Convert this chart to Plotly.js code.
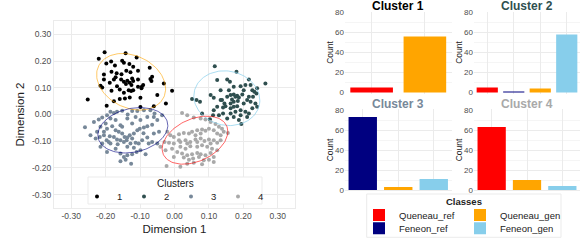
<!DOCTYPE html>
<html><head><meta charset="utf-8">
<script src="https://cdn.plot.ly/plotly-3.0.1.min.js"></script>
<style>html,body{margin:0;padding:0;background:#fff}#chart{width:582px;height:242px}</style>
</head><body><div id="chart"></div>
<script>
// ---- Scatter data (Dimension 1 / Dimension 2) ----
const clusterNames = ['1','2','3','4'];
const clusterColors = ['#000000','#2F4F4F','#778899','#A9A9A9'];

const c1x = [-0.203,-0.142,-0.198,-0.184,-0.173,-0.152,-0.147,-0.131,-0.110,-0.120,-0.183,-0.205,-0.168,-0.154,-0.140,-0.128,-0.106,-0.072,-0.205,-0.188,-0.176,-0.155,-0.147,-0.137,-0.130,-0.120,-0.125,-0.141,-0.070,-0.067,-0.106,-0.215,-0.183,-0.159,-0.147,-0.133,-0.126,-0.120,-0.106,-0.095,-0.031,-0.007,-0.050,-0.144,-0.159,-0.130,-0.099,-0.176,-0.252,-0.197,-0.060,-0.025,-0.099,-0.220,-0.210,-0.171,-0.096,-0.091,-0.065,-0.123,-0.167];
const c1y = [0.233,0.229,0.191,0.198,0.183,0.201,0.194,0.189,0.213,0.179,0.160,0.150,0.154,0.151,0.164,0.158,0.164,0.175,0.131,0.119,0.131,0.131,0.123,0.126,0.119,0.125,0.110,0.114,0.133,0.125,0.131,0.108,0.089,0.094,0.081,0.091,0.088,0.091,0.104,0.104,0.116,0.089,0.073,0.060,0.058,0.064,0.063,0.050,0.056,0.033,0.031,0.041,0.028,0.209,0.101,0.139,0.098,0.110,0.141,0.135,0.106];

const c2x = [0.117,0.180,0.216,0.264,0.124,0.153,0.161,0.172,0.192,0.206,0.226,0.232,0.238,0.051,0.074,0.114,0.138,0.145,0.153,0.163,0.172,0.177,0.182,0.187,0.197,0.211,0.221,0.235,0.124,0.141,0.148,0.163,0.172,0.182,0.192,0.206,0.216,0.187,0.194,0.080,0.103,0.112,0.129,0.141,0.163,0.172,0.184,0.201,0.158,0.134,0.105,0.064,0.211,0.226,0.240,0.172,0.153,0.192,0.167,0.134,0.216,0.201,0.240,0.114,0.177,0.163,0.221,0.228];
const c2y = [0.181,0.160,0.131,0.116,0.129,0.131,0.123,0.104,0.106,0.110,0.091,0.085,0.079,0.058,0.048,0.063,0.054,0.041,0.066,0.073,0.075,0.066,0.070,0.064,0.075,0.054,0.048,0.041,0.029,0.026,0.031,0.023,0.029,0.031,0.016,0.010,0.004,-0.021,-0.036,0.004,-0.018,-0.003,-0.003,0.004,0.004,0.048,0.051,0.041,0.091,0.091,0.073,0.054,-0.009,0.023,0.029,-0.009,-0.015,-0.003,0.056,0.054,0.066,0.091,0.098,0.016,0.010,0.041,0.110,0.066];

const c3x = [-0.260,-0.234,-0.220,-0.210,-0.196,-0.186,-0.176,-0.167,-0.152,-0.136,-0.123,-0.108,-0.089,-0.070,-0.058,-0.225,-0.215,-0.200,-0.196,-0.181,-0.171,-0.162,-0.152,-0.145,-0.137,-0.130,-0.123,-0.118,-0.108,-0.101,-0.089,-0.079,-0.065,-0.050,-0.036,-0.229,-0.217,-0.205,-0.197,-0.188,-0.176,-0.167,-0.157,-0.147,-0.139,-0.128,-0.113,-0.104,-0.094,-0.079,-0.060,-0.045,-0.215,-0.196,-0.171,-0.157,-0.147,-0.137,-0.123,-0.110,-0.099,-0.084,-0.157,-0.142,-0.126,-0.244,-0.210,-0.186,-0.165,-0.137,-0.118,-0.075,-0.065,-0.205,-0.152,-0.123,-0.099,-0.171,-0.186,-0.137,-0.113,-0.079,-0.050,-0.060,-0.157,-0.191,-0.090];
const c3y = [-0.048,-0.028,-0.019,-0.011,-0.003,0.010,0.006,0.010,0.014,0.000,0.013,0.013,0.016,0.016,0.004,-0.065,-0.046,-0.034,-0.053,-0.044,-0.059,-0.065,-0.071,-0.084,-0.086,-0.078,-0.090,-0.071,-0.059,-0.053,-0.049,-0.044,-0.038,-0.021,-0.003,-0.090,-0.084,-0.078,-0.096,-0.081,-0.084,-0.094,-0.096,-0.103,-0.096,-0.109,-0.106,-0.109,-0.096,-0.086,-0.071,-0.065,-0.121,-0.140,-0.128,-0.146,-0.159,-0.153,-0.149,-0.140,-0.134,-0.149,-0.175,-0.169,-0.184,-0.078,-0.109,-0.109,-0.111,-0.121,-0.124,-0.109,-0.103,-0.065,-0.046,-0.034,-0.021,-0.021,-0.015,-0.015,-0.009,-0.009,-0.109,-0.009,-0.040,-0.103,-0.070];

const c4x = [0.022,0.037,0.056,0.076,0.090,0.105,0.119,0.129,0.138,0.155,-0.021,-0.012,-0.002,0.013,0.027,0.042,0.051,0.066,0.080,0.090,0.100,0.114,0.124,0.134,-0.029,-0.016,-0.002,0.017,0.032,0.046,0.061,0.076,0.087,0.100,0.114,0.124,-0.026,-0.007,0.017,0.032,0.046,0.066,0.080,0.095,0.109,0.124,0.022,0.037,0.051,0.066,0.076,0.090,0.105,0.114,0.027,0.042,0.054,0.071,0.085,0.100,0.114,-0.023,0.017,0.037,0.056,0.080,-0.002,0.008,-0.041,0.061,0.076,0.134,0.143,0.013,0.037,0.066,0.105];
const c4y = [0.006,-0.003,-0.011,-0.015,-0.019,-0.028,-0.036,-0.046,-0.053,-0.069,-0.065,-0.078,-0.084,-0.074,-0.069,-0.071,-0.065,-0.059,-0.056,-0.061,-0.053,-0.059,-0.071,-0.078,-0.103,-0.106,-0.109,-0.103,-0.096,-0.103,-0.094,-0.090,-0.099,-0.094,-0.096,-0.106,-0.134,-0.128,-0.121,-0.128,-0.119,-0.121,-0.115,-0.121,-0.128,-0.134,-0.146,-0.153,-0.149,-0.144,-0.149,-0.153,-0.144,-0.159,-0.161,-0.169,-0.165,-0.159,-0.171,-0.169,-0.178,-0.193,-0.196,-0.184,-0.181,-0.186,-0.159,-0.140,-0.121,-0.078,-0.071,-0.096,-0.065,-0.096,-0.109,-0.103,-0.109];

// confidence ellipses: centre, half extents, tilt (correlation)
const ellCx  = [-0.126, 0.152, -0.121, 0.0595];
const ellCy  = [0.1225, 0.061, -0.059, -0.096];
const ellSx  = [0.1002, 0.0958, 0.1016, 0.0954];
const ellSy  = [0.106, 0.1025, 0.085, 0.090];
const ellRho = [-0.25, -0.08, 0.21, 0.36];
const ellColors = ['rgba(255,165,0,0.6)','rgba(135,206,235,0.7)','rgba(0,0,128,0.6)','rgba(255,0,0,0.6)'];

const scatterTickVals = [-0.3,-0.2,-0.1,0,0.1,0.2,0.3];
const scatterTickText = ['-0.30','-0.20','-0.10','0.00','0.10','0.20','0.30'];

// ---- Bar data: counts of each class in each cluster ----
const barPanelTitles = ['Cluster 1','Cluster 2','Cluster 3','Cluster 4'];
const classes = ['Queneau_ref','Feneon_ref','Queneau_gen','Feneon_gen'];
const classColors = ['#FF0000','#000080','#FFA500','#87CEEB'];
const countQueneauRef = [5, 5, 0, 63];
const countFeneonRef  = [0, 1, 73, 0];
const countQueneauGen = [56, 4, 3, 10];
const countFeneonGen  = [0, 58, 11, 4];
const countTickVals = [0,20,40,60,80];
const countMinorVals = [10,30,50,70];

const W = 582, H = 242;
const FONT = 'Liberation Sans, Arial, Helvetica, sans-serif';
const px = v => v / W;
const py = v => 1 - v / H;

const traces = [];
const cx = [c1x,c2x,c3x,c4x], cy = [c1y,c2y,c3y,c4y];
for (let i = 0; i < 4; i++) {
  traces.push({type:'scatter', mode:'markers', x:cx[i], y:cy[i], xaxis:'x', yaxis:'y',
    name:clusterNames[i], legend:'legend',
    marker:{color:clusterColors[i], size:4}, hoverinfo:'x+y'});
}
for (let i = 0; i < 4; i++) {
  const ex = [], ey = [];
  const r = ellRho[i], q = Math.sqrt(1 - r*r);
  for (let k = 0; k <= 120; k++) {
    const t = 2*Math.PI*k/120;
    ex.push(ellCx[i] + ellSx[i]*Math.cos(t));
    ey.push(ellCy[i] + ellSy[i]*(r*Math.cos(t) + q*Math.sin(t)));
  }
  traces.push({type:'scatter', mode:'lines', x:ex, y:ey, xaxis:'x', yaxis:'y',
    line:{color:ellColors[i], width:1}, showlegend:false, hoverinfo:'skip'});
}

const counts = [countQueneauRef, countFeneonRef, countQueneauGen, countFeneonGen];
const legendOf = ['legend2','legend3','legend2','legend3'];
for (let k = 0; k < classes.length; k++) {
  let shown = false;
  for (let c = 0; c < 4; c++) {
    if (counts[k][c] <= 0) continue;
    traces.push({type:'bar', x:[classes[k]], y:[counts[k][c]],
      xaxis:'x'+(c+2), yaxis:'y'+(c+2), name:classes[k], legendgroup:classes[k],
      legend:legendOf[k], showlegend:!shown, marker:{color:classColors[k]}});
    shown = true;
  }
}

const grid = '#EBEBEB';
const tickGray = '#4D4D4D';
const layout = {
  width:W, height:H, margin:{l:0,r:0,t:0,b:0, autoexpand:false},
  paper_bgcolor:'#ffffff', plot_bgcolor:'rgba(0,0,0,0)',
  font:{family:FONT, color:'#222'},
  barmode:'overlay', bargap:0.2, showlegend:true,
  xaxis:{domain:[px(54),px(295)], range:[-0.35,0.35], anchor:'y',
    tickmode:'array', tickvals:scatterTickVals, ticktext:scatterTickText,
    showgrid:true, gridcolor:grid, zeroline:false, showline:true, mirror:true, linecolor:grid, linewidth:1,
    ticks:'', tickfont:{size:8.5, color:tickGray},
    title:{text:'Dimension 1', font:{size:11.5, color:'#222'}, standoff:4}},
  yaxis:{domain:[py(208),py(21)], range:[-0.35,0.35], anchor:'x',
    tickmode:'array', tickvals:scatterTickVals, ticktext:scatterTickText,
    showgrid:true, gridcolor:grid, zeroline:false, showline:true, mirror:true, linecolor:grid, linewidth:1,
    ticks:'', tickfont:{size:8.5, color:tickGray},
    title:{text:'Dimension 2', font:{size:11.5, color:'#222'}, standoff:4}},
  legend:{orientation:'h', x:px(77), xanchor:'left', y:py(182), yanchor:'top',
    entrywidth:2, bgcolor:'rgba(0,0,0,0)', borderwidth:0, font:{size:9.5, color:'#222'}},
  legend2:{orientation:'h', x:px(359), xanchor:'left', y:py(200.5), yanchor:'top',
    entrywidth:56, bgcolor:'rgba(0,0,0,0)', borderwidth:0, font:{size:9.5, color:'#222'}},
  legend3:{orientation:'h', x:px(359), xanchor:'left', y:py(213.8), yanchor:'top',
    entrywidth:56, bgcolor:'rgba(0,0,0,0)', borderwidth:0, font:{size:9.5, color:'#222'}},
  shapes:[
    {type:'rect', xref:'paper', yref:'paper', x0:px(88), x1:px(262), y0:py(204), y1:py(177),
      fillcolor:'#ffffff', line:{color:'#EBEBEB', width:1}, layer:'above'},
    {type:'rect', xref:'paper', yref:'paper', x0:px(366.7), x1:px(561), y0:py(237.3), y1:py(194),
      fillcolor:'#ffffff', line:{color:'#EBEBEB', width:1}, layer:'above'}
  ],
  annotations:[
    {text:'Clusters', xref:'paper', yref:'paper', x:px(175.3), y:py(183.3), xanchor:'center', yanchor:'middle',
      showarrow:false, font:{size:10, color:'#222'}},
    {text:'Classes', xref:'paper', yref:'paper', x:px(463.8), y:py(201), xanchor:'center', yanchor:'middle',
      showarrow:false, font:{size:9.5, color:'#222', weight:'bold'}}
  ]
};

const colDom = [[px(345),px(451.5)],[px(474),px(580)]];
const rowDom = [[py(93.5),py(11.5)],[py(191),py(109)]];
const titleY = [6, 104];
for (let c = 0; c < 4; c++) {
  const col = c % 2, row = Math.floor(c / 2);
  const n = c + 2;
  layout['xaxis'+n] = {domain:colDom[col], anchor:'y'+n, type:'category',
    showticklabels:false, ticks:'', showgrid:true, gridcolor:grid, zeroline:false, showline:false};
  layout['yaxis'+n] = {domain:rowDom[row], anchor:'x'+n, range:[-1,81],
    tickmode:'array', tickvals:countTickVals, ticks:'', showgrid:true, gridcolor:grid, zeroline:false,
    minor:{tickvals:countMinorVals, showgrid:true, gridcolor:'#F5F5F5', ticks:''},
    tickfont:{size:8, color:tickGray},
    title:{text:'Count', font:{size:8.5, color:'#222'}, standoff:0}};
  layout.annotations.push({text:barPanelTitles[c], xref:'paper', yref:'paper',
    x:(colDom[col][0]+colDom[col][1])/2, y:py(titleY[row]), xanchor:'center', yanchor:'middle',
    showarrow:false, font:{size:12, color:clusterColors[c], weight:'bold'}});
}

Plotly.newPlot('chart', traces, layout, {displayModeBar:false, staticPlot:true});
</script>
</body></html>
